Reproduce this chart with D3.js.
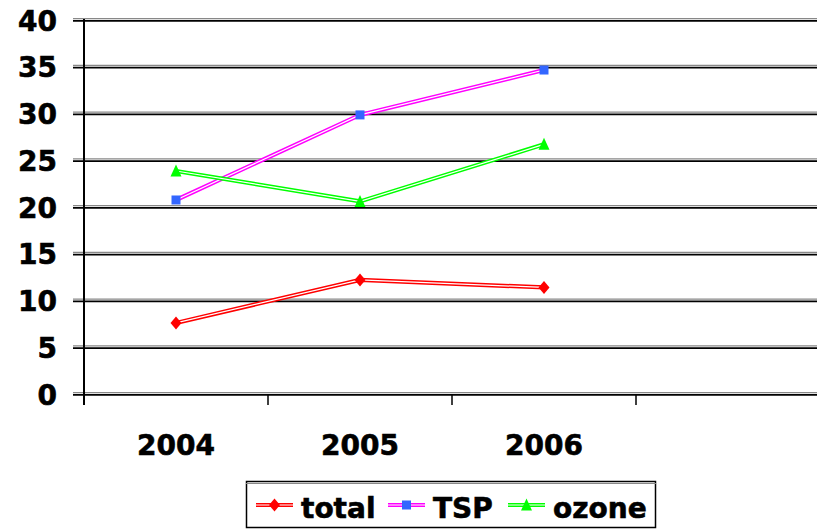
<!DOCTYPE html>
<html>
<head>
<meta charset="utf-8">
<script src="https://cdn.jsdelivr.net/npm/d3@7"></script>
<style>
  body { margin: 0; background: #fff; }
  text { font-family: "DejaVu Sans", "Liberation Sans", Arial, sans-serif; font-weight: bold; fill: #000; }
</style>
</head>
<body>
<svg id="chart" width="817" height="529"></svg>
<script>
// chart data
var categories = ["2004", "2005", "2006", ""];
var seriesNames = ["total", "TSP", "ozone"];
var totalValues = [7.6, 12.2, 11.4];
var tspValues = [20.75, 29.85, 34.65];
var ozoneValues = [23.85, 20.6, 26.7];
var yTicks = [0, 5, 10, 15, 20, 25, 30, 35, 40];

var series = [
  { name: seriesNames[0], values: totalValues, line: "#ff0000", marker: "#ff0000", shape: "diamond" },
  { name: seriesNames[1], values: tspValues, line: "#ff00ff", marker: "#3366ff", shape: "square" },
  { name: seriesNames[2], values: ozoneValues, line: "#00ff00", marker: "#00ff00", shape: "triangle" }
];

var svg = d3.select("#chart");
var plotLeft = 84, plotRight = 820, plotTop = 20, plotBottom = 394;

var x = d3.scaleBand().domain(categories).range([plotLeft, plotRight]);
var y = d3.scaleLinear().domain([0, 40]).range([plotBottom, plotTop]);

// gridlines (double: gray over black)
var grid = svg.append("g");
yTicks.forEach(function(t) {
  grid.append("line")
    .attr("x1", plotLeft - 11).attr("x2", 817)
    .attr("y1", y(t) - 1.3).attr("y2", y(t) - 1.3)
    .attr("stroke", "#888").attr("stroke-width", 1.2);
  grid.append("line")
    .attr("x1", plotLeft - 11).attr("x2", 817)
    .attr("y1", y(t) + 0.9).attr("y2", y(t) + 0.9)
    .attr("stroke", "#000").attr("stroke-width", 1.6);
});

// y axis
svg.append("line")
  .attr("x1", plotLeft).attr("x2", plotLeft)
  .attr("y1", plotTop - 1).attr("y2", plotBottom + 11)
  .attr("stroke", "#000").attr("stroke-width", 2);

// x ticks between categories
categories.forEach(function(c) {
  svg.append("line")
    .attr("x1", x(c) + x.bandwidth()).attr("x2", x(c) + x.bandwidth())
    .attr("y1", plotBottom).attr("y2", plotBottom + 11)
    .attr("stroke", "#000").attr("stroke-width", 1.5);
});

// y labels
svg.append("g").selectAll("text")
  .data(yTicks)
  .enter().append("text")
  .attr("x", 57)
  .attr("y", function(d) { return y(d) + 10.5; })
  .attr("text-anchor", "end")
  .attr("font-size", 28)
  .attr("stroke", "#000").attr("stroke-width", 0.6)
  .text(function(d) { return d; });

// x labels
svg.append("g").selectAll("text")
  .data(categories.filter(function(c) { return c !== ""; }))
  .enter().append("text")
  .attr("x", function(d) { return x(d) + x.bandwidth() / 2; })
  .attr("y", 455)
  .attr("text-anchor", "middle")
  .attr("font-size", 28)
  .attr("stroke", "#000").attr("stroke-width", 0.6)
  .text(function(d) { return d; });

var line = d3.line()
  .x(function(d, i) { return x(categories[i]) + x.bandwidth() / 2; })
  .y(function(d) { return y(d); });

function markerPath(shape) {
  if (shape === "square") return "M-4.5,-4.5H4.5V4.5H-4.5Z";
  if (shape === "triangle") return "M0,-6.5L5.5,5.5H-5.5Z";
  return "M0,-6.5L5.5,0L0,6.5L-5.5,0Z";
}

series.forEach(function(s) {
  var g = svg.append("g");
  g.append("path").attr("d", line(s.values))
    .attr("fill", "none").attr("stroke", s.line).attr("stroke-width", 4.2);
  g.append("path").attr("d", line(s.values))
    .attr("fill", "none").attr("stroke", "#fff").attr("stroke-width", 1.2);
  g.selectAll(".m").data(s.values).enter().append("path")
    .attr("d", markerPath(s.shape))
    .attr("transform", function(d, i) { return "translate(" + (x(categories[i]) + x.bandwidth() / 2) + "," + y(d) + ")"; })
    .attr("fill", s.marker);
});

// legend
var legend = svg.append("g");
legend.append("rect").attr("x", 246.5).attr("y", 481.5).attr("width", 409).attr("height", 46)
  .attr("fill", "#fff").attr("stroke", "#000").attr("stroke-width", 1.5);
legend.append("line").attr("x1", 246).attr("x2", 656).attr("y1", 483.5).attr("y2", 483.5)
  .attr("stroke", "#888").attr("stroke-width", 1);
var legendX = [256, 388, 508];
series.forEach(function(s, i) {
  var lx = legendX[i], ly = 505;
  legend.append("line").attr("x1", lx).attr("x2", lx + 37).attr("y1", ly).attr("y2", ly)
    .attr("stroke", s.line).attr("stroke-width", 4.2);
  legend.append("line").attr("x1", lx).attr("x2", lx + 37).attr("y1", ly).attr("y2", ly)
    .attr("stroke", "#fff").attr("stroke-width", 1.2);
  legend.append("path").attr("d", markerPath(s.shape))
    .attr("transform", "translate(" + (lx + 18.5) + "," + ly + ")")
    .attr("fill", s.marker);
  legend.append("text").attr("x", lx + 45).attr("y", 518)
    .attr("font-size", 28)
    .attr("stroke", "#000").attr("stroke-width", 0.6)
    .text(s.name);
});
</script>
</body>
</html>
